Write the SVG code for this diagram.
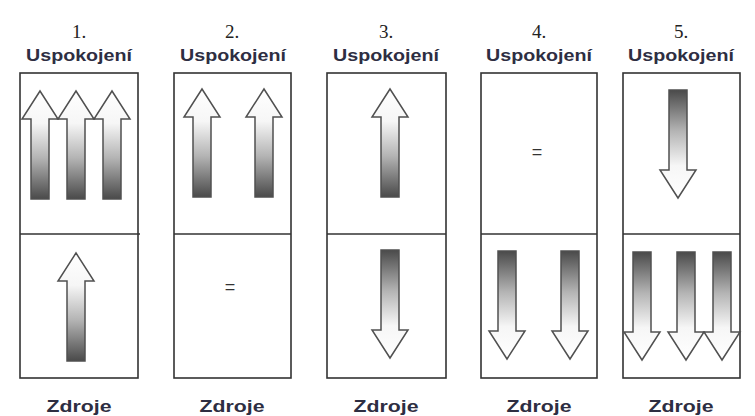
<svg xmlns="http://www.w3.org/2000/svg" xmlns:xlink="http://www.w3.org/1999/xlink" width="755" height="416" viewBox="0 0 755 416">
  <style>
    .box { fill: #ffffff; stroke: #333333; stroke-width: 1.6; }
    .div { stroke: #333333; stroke-width: 1.6; }
    .num { font-family: "Liberation Serif", "Times New Roman", serif; font-size: 19px; fill: #222222; text-anchor: middle; }
    .head { font-family: "Liberation Sans", Arial, sans-serif; font-size: 17px; font-weight: bold; fill: #2e2e42; text-anchor: middle; }
    .foot { font-family: "Liberation Sans", Arial, sans-serif; font-size: 17px; font-weight: bold; fill: #2e2e42; text-anchor: middle; }
    .eq { font-family: "Liberation Sans", Arial, sans-serif; font-size: 18px; fill: #333333; text-anchor: middle; }
    .arrow { fill: url(#shade); stroke: #505050; stroke-width: 1.5; stroke-linejoin: miter; }
  </style>
  <defs>
    <!-- light at the head, dark at the tail -->
    <linearGradient id="shade" x1="0" y1="0" x2="0" y2="1">
      <stop offset="0" stop-color="#ffffff"/>
      <stop offset="0.3" stop-color="#f6f6f6"/>
      <stop offset="0.62" stop-color="#b4b4b4"/>
      <stop offset="1" stop-color="#4a4a4a"/>
    </linearGradient>
    <!-- block arrow pointing up, tip at the origin -->
    <path id="arr" class="arrow" d="M0,0 L18,28 L9,28 L9,108 L-9,108 L-9,28 L-18,28 Z"/>
  </defs>

  <rect width="755" height="416" fill="#ffffff"/>

  <!-- 1 -->
  <g id="panel1">
    <text class="num" x="79" y="38">1.</text>
    <text class="head" x="79" y="61" textLength="106" lengthAdjust="spacingAndGlyphs">Uspokojení</text>
    <rect class="box" x="20" y="73" width="118" height="305"/>
    <line class="div" x1="20" y1="234" x2="140" y2="234"/>
    <use xlink:href="#arr" transform="translate(40,91)"/>
    <use xlink:href="#arr" transform="translate(76,91)"/>
    <use xlink:href="#arr" transform="translate(112,91)"/>
    <use xlink:href="#arr" transform="translate(76,253)"/>
    <text class="foot" x="79" y="412" textLength="65" lengthAdjust="spacingAndGlyphs">Zdroje</text>
  </g>

  <!-- 2 -->
  <g id="panel2">
    <text class="num" x="232" y="38">2.</text>
    <text class="head" x="233" y="61" textLength="106" lengthAdjust="spacingAndGlyphs">Uspokojení</text>
    <rect class="box" x="174" y="73" width="117" height="305"/>
    <line class="div" x1="174" y1="234" x2="291" y2="234"/>
    <use xlink:href="#arr" transform="translate(202,89)"/>
    <use xlink:href="#arr" transform="translate(264,89)"/>
    <text class="eq" x="230" y="293">=</text>
    <text class="foot" x="232" y="412" textLength="65" lengthAdjust="spacingAndGlyphs">Zdroje</text>
  </g>

  <!-- 3 -->
  <g id="panel3">
    <text class="num" x="386" y="38">3.</text>
    <text class="head" x="386" y="61" textLength="106" lengthAdjust="spacingAndGlyphs">Uspokojení</text>
    <rect class="box" x="327" y="73" width="119" height="305"/>
    <line class="div" x1="327" y1="234" x2="446" y2="234"/>
    <use xlink:href="#arr" transform="translate(390,89)"/>
    <use xlink:href="#arr" transform="translate(390,358) rotate(180)"/>
    <text class="foot" x="386" y="412" textLength="65" lengthAdjust="spacingAndGlyphs">Zdroje</text>
  </g>

  <!-- 4 -->
  <g id="panel4">
    <text class="num" x="539" y="38">4.</text>
    <text class="head" x="539" y="61" textLength="106" lengthAdjust="spacingAndGlyphs">Uspokojení</text>
    <rect class="box" x="481" y="73" width="116" height="305"/>
    <line class="div" x1="481" y1="234" x2="597" y2="234"/>
    <text class="eq" x="537" y="158">=</text>
    <use xlink:href="#arr" transform="translate(507,359) rotate(180)"/>
    <use xlink:href="#arr" transform="translate(570,359) rotate(180)"/>
    <text class="foot" x="539" y="412" textLength="65" lengthAdjust="spacingAndGlyphs">Zdroje</text>
  </g>

  <!-- 5 -->
  <g id="panel5">
    <text class="num" x="681" y="38">5.</text>
    <text class="head" x="681" y="61" textLength="106" lengthAdjust="spacingAndGlyphs">Uspokojení</text>
    <rect class="box" x="623" y="73" width="117" height="305"/>
    <line class="div" x1="623" y1="234" x2="740" y2="234"/>
    <use xlink:href="#arr" transform="translate(678,198) rotate(180)"/>
    <use xlink:href="#arr" transform="translate(642,360) rotate(180)"/>
    <use xlink:href="#arr" transform="translate(686,360) rotate(180)"/>
    <use xlink:href="#arr" transform="translate(722,360) rotate(180)"/>
    <text class="foot" x="681" y="412" textLength="65" lengthAdjust="spacingAndGlyphs">Zdroje</text>
  </g>
</svg>
